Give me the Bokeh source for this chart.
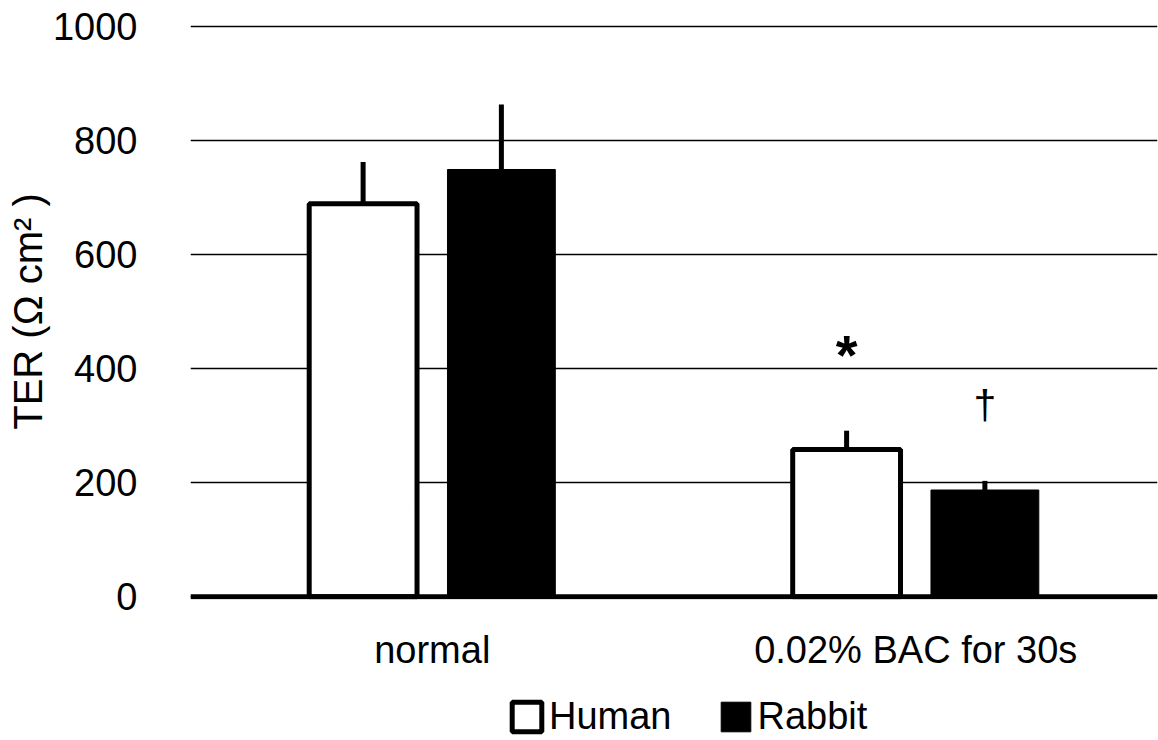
from bokeh.plotting import figure
from bokeh.layouts import column
from bokeh.models import (ColumnDataSource, FactorRange, Range1d, FixedTicker,
                          Span, Legend, LegendItem)
from bokeh.transform import dodge
from bokeh.core.properties import value
from bokeh.embed import file_html
from bokeh.resources import INLINE

# ---- data ----
categories = ["normal", "0.02% BAC for 30s"]
human_mean = [689, 258]
human_err = [73, 33]
rabbit_mean = [749, 187]
rabbit_err = [114, 16]
human_marks = ["", "*"]
rabbit_marks = ["", "\u2020"]
y_ticks = [0, 200, 400, 600, 800, 1000]
y_label = "TER (\u03a9 cm\u00b2 )"
series_names = ["Human", "Rabbit"]

FONT = "Liberation Sans"
MARK_OFFSET = 133

def make_src(means, errs, marks):
    return ColumnDataSource(dict(
        cat=categories,
        top=means,
        err_top=[m + e for m, e in zip(means, errs)],
        mark=marks,
        mark_y=[m + e + MARK_OFFSET for m, e in zip(means, errs)],
    ))

hs = make_src(human_mean, human_err, human_marks)
rs = make_src(rabbit_mean, rabbit_err, rabbit_marks)

p = figure(x_range=FactorRange(*categories), y_range=Range1d(-5, 1005),
           width=1158, height=690, output_backend="svg", toolbar_location=None,
           min_border_left=190, min_border_right=1, min_border_top=23,
           min_border_bottom=91)
p.outline_line_color = None
p.background_fill_color = "white"

# grid
p.xgrid.grid_line_color = None
p.ygrid.ticker = FixedTicker(ticks=y_ticks)
p.ygrid.grid_line_color = "black"
p.ygrid.grid_line_width = 1.5

# axes
p.yaxis.ticker = FixedTicker(ticks=y_ticks)
p.yaxis.axis_line_color = None
p.yaxis.major_tick_line_color = None
p.yaxis.minor_tick_line_color = None
p.yaxis.major_tick_out = 0
p.yaxis.major_tick_in = 0
p.yaxis.minor_tick_out = 0
p.yaxis.major_label_standoff = 53
p.yaxis.major_label_text_font = FONT
p.yaxis.major_label_text_font_size = "38px"
p.yaxis.major_label_text_color = "black"
p.yaxis.axis_label = y_label
p.yaxis.axis_label_text_font = FONT
p.yaxis.axis_label_text_font_size = "40px"
p.yaxis.axis_label_text_font_style = "normal"
p.yaxis.axis_label_text_color = "black"
p.yaxis.axis_label_standoff = 0

p.xaxis.axis_line_color = None
p.xaxis.major_tick_line_color = None
p.xaxis.minor_tick_line_color = None
p.xaxis.major_label_standoff = 23
p.xaxis.major_label_text_font = FONT
p.xaxis.major_label_text_font_size = "38px"
p.xaxis.major_label_text_color = "black"

DH, DR, W = -0.143, 0.143, 0.223

HUMAN_STYLE = dict(fill_color="white", line_color="black", line_width=5)
RABBIT_STYLE = dict(fill_color="black", line_color="black", line_width=1)

p.vbar(x=dodge("cat", DH, range=p.x_range), top="top", bottom=0, width=W,
       source=hs, **HUMAN_STYLE)
p.vbar(x=dodge("cat", DR, range=p.x_range), top="top", bottom=0, width=W,
       source=rs, **RABBIT_STYLE)

# error bars (upper only)
p.segment(x0=dodge("cat", DH, range=p.x_range), y0="top",
          x1=dodge("cat", DH, range=p.x_range), y1="err_top",
          line_color="black", line_width=5, source=hs)
p.segment(x0=dodge("cat", DR, range=p.x_range), y0="top",
          x1=dodge("cat", DR, range=p.x_range), y1="err_top",
          line_color="black", line_width=5, source=rs)

# significance marks
p.text(x=dodge("cat", DH, range=p.x_range), y="mark_y", text="mark", source=hs,
       text_align="center", text_baseline="middle", text_font=value(FONT),
       text_font_size="56px", text_font_style="bold", text_color="black")
p.text(x=dodge("cat", DR, range=p.x_range), y="mark_y", text="mark", source=rs,
       text_align="center", text_baseline="middle", text_font=value(FONT),
       text_font_size="41px", text_color="black")

# zero line
p.add_layout(Span(location=0, dimension="width", line_color="black",
                  line_width=5, level="overlay"))

# ---- legend strip underneath: key-only renderers (NaN height, so they draw
#      no bar, only their legend swatch) ----
lf = figure(width=1158, height=50, output_backend="svg", toolbar_location=None,
            x_range=FactorRange(*categories), y_range=Range1d(5000, 6000),
            x_axis_location=None, y_axis_location=None,
            min_border_left=0, min_border_right=0,
            min_border_top=0, min_border_bottom=0)
lf.outline_line_color = None
lf.grid.visible = False
key_src = ColumnDataSource(dict(cat=[categories[0]], top=[float("nan")]))
key_h = lf.vbar(x="cat", top="top", bottom=float("nan"), width=W,
                source=key_src, **HUMAN_STYLE)
key_r = lf.vbar(x="cat", top="top", bottom=float("nan"), width=W,
                source=key_src, **RABBIT_STYLE)

# column() aligns this strip's frame with the chart's frame (left edge 190 px)
legend = Legend(items=[LegendItem(label=series_names[0], renderers=[key_h]),
                       LegendItem(label=series_names[1], renderers=[key_r])],
                orientation="horizontal", location=(318, 2),
                border_line_color=None, background_fill_alpha=0,
                label_text_font=FONT, label_text_font_size="38px",
                label_text_color="black",
                glyph_width=37, glyph_height=37, label_standoff=4,
                spacing=45, padding=0, margin=0)
lf.add_layout(legend)

layout = column(p, lf, spacing=0)
open("out.html", "w").write(file_html(layout, INLINE))
